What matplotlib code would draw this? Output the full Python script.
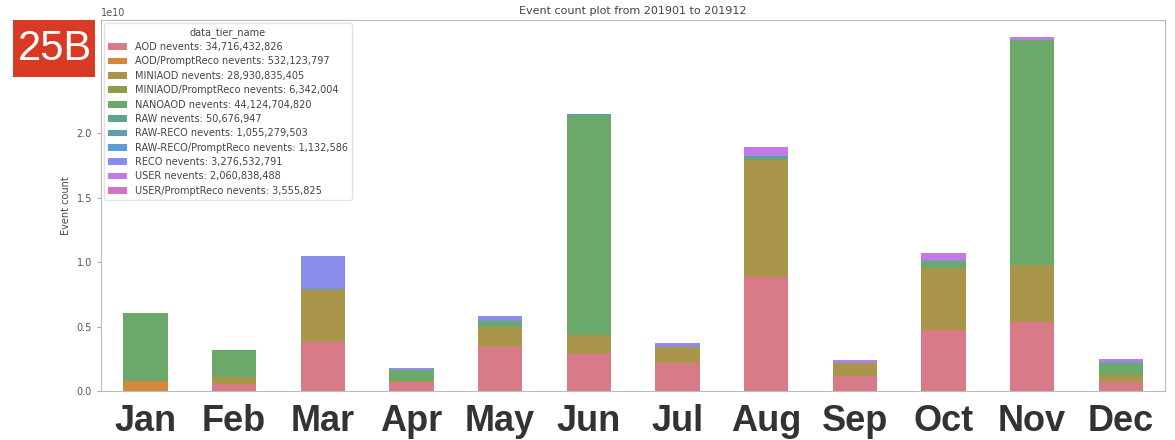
import numpy as np
import matplotlib
matplotlib.use("Agg")
import matplotlib.pyplot as plt
from matplotlib.patches import Rectangle

# ----------------------------
# Data (event counts in units of 1e10)
# ----------------------------

months = ["Jan", "Feb", "Mar", "Apr", "May", "Jun", "Jul", "Aug", "Sep", "Oct", "Nov", "Dec"]

tiers = [
    "AOD", "AOD/PromptReco", "MINIAOD", "MINIAOD/PromptReco", "NANOAOD", "RAW",
    "RAW-RECO", "RAW-RECO/PromptReco", "RECO", "USER", "USER/PromptReco",
]
totals = [
    "34,716,432,826", "532,123,797", "28,930,835,405", "6,342,004", "44,124,704,820",
    "50,676,947", "1,055,279,503", "1,132,586", "3,276,532,791", "2,060,838,488", "3,555,825",
]

aod = [0.005, 0.052, 0.382, 0.072, 0.343, 0.287, 0.215, 0.881, 0.119, 0.473, 0.537, 0.072]
aod_prompt = [0.072, 0.0, 0.0, 0.0, 0.0, 0.0, 0.0, 0.0, 0.0, 0.0, 0.0, 0.0]
miniaod = [0.0, 0.059, 0.40, 0.008, 0.155, 0.147, 0.128, 0.91, 0.096, 0.478, 0.44, 0.052]
miniaod_prompt = [0.0, 0.0, 0.0, 0.0, 0.0, 0.0, 0.0, 0.0, 0.0, 0.0, 0.0, 0.0]
nanoaod = [0.525, 0.207, 0.012, 0.083, 0.047, 1.70, 0.0, 0.012, 0.0, 0.057, 1.745, 0.091]
raw = [0.0, 0.0, 0.0, 0.0, 0.0, 0.0, 0.0, 0.005, 0.0, 0.0, 0.0, 0.0]
raw_reco = [0.0, 0.0, 0.0, 0.0, 0.0, 0.012, 0.0, 0.012, 0.0, 0.0, 0.0, 0.0]
raw_reco_prompt = [0.0, 0.0, 0.0, 0.0, 0.0, 0.0, 0.0, 0.0, 0.0, 0.0, 0.0, 0.0]
reco = [0.0, 0.0, 0.255, 0.015, 0.036, 0.0, 0.025, 0.0, 0.014, 0.01, 0.0, 0.018]
user = [0.0, 0.0, 0.0, 0.005, 0.004, 0.0, 0.006, 0.068, 0.01, 0.055, 0.025, 0.013]
user_prompt = [0.0, 0.0, 0.0, 0.0, 0.0, 0.0, 0.0, 0.0, 0.0, 0.0, 0.0, 0.0]

series = [aod, aod_prompt, miniaod, miniaod_prompt, nanoaod, raw,
          raw_reco, raw_reco_prompt, reco, user, user_prompt]

colors = ["#d97a88", "#d4883e", "#a9964b", "#929c48", "#6aa96a", "#5fa58e",
          "#5e9fa8", "#5b9cd6", "#8a8cec", "#c17ae8", "#d672c6"]

# ----------------------------
# Plot
# ----------------------------

plt.rcParams["font.family"] = ["DejaVu Sans"]

fig = plt.figure(figsize=(11.75, 4.4), dpi=100)
ax = fig.add_axes([0.086, 0.111, 0.9055, 0.8435])

x = np.arange(len(months))
bottom = np.zeros(len(months))
for name, tot, vals, c in zip(tiers, totals, series, colors):
    v = np.array(vals) * 1e10
    ax.bar(x, v, width=0.5, bottom=bottom, color=c, linewidth=0,
           label=f"{name} nevents: {tot}")
    bottom += v

ax.set_xlim(-0.5, 11.5)
ax.set_ylim(0, 2.875e10)
# the 2.5 tick sits behind the red badge in the original, so only up to 2.0
ax.set_yticks([0, 0.5e10, 1.0e10, 1.5e10, 2.0e10])
ax.set_xticks(x)
ax.set_xticklabels(months, fontsize=26, fontweight="bold", family="Liberation Sans", color="#333333")
ax.tick_params(axis="x", length=0, pad=9)
ax.tick_params(axis="y", labelsize=7, colors="#555555", length=3, color="#aaaaaa")
ax.yaxis.get_offset_text().set_fontsize(7)
ax.yaxis.get_offset_text().set_color("#555555")
for s in ax.spines.values():
    s.set_color("#bbbbbb")

ax.set_ylabel("Event count", fontsize=7, color="#444444")
ax.set_title("Event count plot from 201901 to 201912", fontsize=8, color="#444444", pad=4)

leg = ax.legend(title="data_tier_name", loc="upper left", bbox_to_anchor=(0.0, 1.0),
                borderaxespad=0.3, fontsize=7, title_fontsize=7, labelspacing=0.45,
                handlelength=2.0, frameon=True, borderpad=0.4)
leg.get_frame().set_edgecolor("#dddddd")
for t in leg.get_texts():
    t.set_color("#444444")
leg.get_title().set_color("#444444")

# red "25B" badge in the top-left corner
fig.patches.append(Rectangle((13 / 1175, 1 - 77 / 440), 82 / 1175, 57 / 440,
                             transform=fig.transFigure, facecolor="#d93a26",
                             edgecolor="none", zorder=10))
fig.text(55 / 1175, 1 - 49 / 440, "25B", color="white", fontsize=30,
         family="Liberation Sans", ha="center", va="center", zorder=11)

fig.savefig("out.png", dpi=100)
